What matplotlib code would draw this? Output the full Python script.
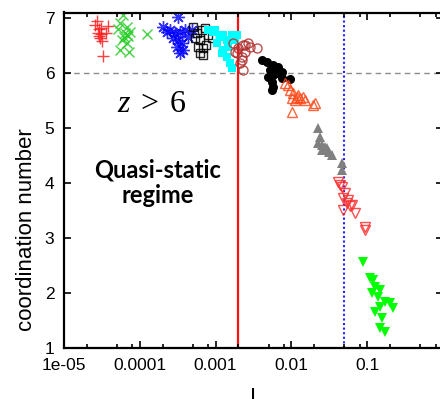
import numpy as np
import matplotlib.pyplot as plt
from matplotlib.ticker import FixedLocator, FixedFormatter, LogLocator, NullFormatter

plt.rcParams['font.family'] = ['Liberation Sans', 'DejaVu Sans']
plt.rcParams['mathtext.fontset'] = 'custom'
plt.rcParams['mathtext.rm'] = 'Liberation Serif'
plt.rcParams['mathtext.it'] = 'Liberation Serif:italic'

# data (x = I, y = coordination number)
plus_x = [2.7e-5, 2.9e-5, 3.8e-5, 2.8e-5, 3.1e-5, 3.6e-5, 3.0e-5, 3.2e-5, 3.3e-5, 2.6e-5, 3.1e-5, 2.9e-5]
plus_y = [6.95, 6.80, 6.85, 6.73, 6.71, 6.73, 6.64, 6.59, 6.30, 6.87, 6.82, 6.67]

cross_x = [6.0e-5, 5.5e-5, 6.8e-5, 6.4e-5, 7.4e-5, 5.2e-5, 5.8e-5, 6.8e-5, 5.5e-5, 7.2e-5, 1.24e-4, 6.2e-5, 7.0e-5]
cross_y = [7.05, 6.91, 6.84, 6.73, 6.75, 6.80, 6.60, 6.55, 6.42, 6.38, 6.71, 6.65, 6.67]

star_x = [3.2e-4, 2.0e-4, 2.5e-4, 2.9e-4, 3.4e-4, 3.95e-4, 2.75e-4, 3.2e-4, 3.6e-4, 3.1e-4, 3.7e-4, 3.4e-4, 4.3e-4, 4.9e-4, 2.3e-4]
star_y = [7.02, 6.84, 6.78, 6.73, 6.75, 6.78, 6.64, 6.60, 6.55, 6.47, 6.42, 6.36, 6.65, 6.78, 6.75]

osq_x = [5.0e-4, 5.7e-4, 6.6e-4, 6.2e-4, 5.9e-4, 6.8e-4, 6.2e-4, 6.8e-4, 7.9e-4, 9.0e-4, 7.5e-4, 5.35e-4, 7.25e-4]
osq_y = [6.84, 6.73, 6.78, 6.60, 6.47, 6.45, 6.36, 6.33, 6.69, 6.64, 6.51, 6.64, 6.82]

fsq_x = [7.9e-4, 9.25e-4, 1.14e-3, 1.25e-3, 1.41e-3, 1.65e-3, 1.92e-3, 1.04e-3, 1.25e-3, 1.41e-3, 1.55e-3, 1.65e-3, 1.80e-3, 1.21e-3, 9.8e-4, 1.46e-3]
fsq_y = [6.78, 6.75, 6.65, 6.69, 6.60, 6.69, 6.69, 6.55, 6.42, 6.29, 6.18, 6.09, 6.60, 6.36, 6.78, 6.47]

ocirc_x = [1.70e-3, 1.98e-3, 2.30e-3, 2.67e-3, 3.52e-3, 1.92e-3, 2.23e-3, 2.44e-3, 2.10e-3, 2.30e-3, 2.44e-3, 2.84e-3, 1.80e-3, 2.23e-3]
ocirc_y = [6.55, 6.45, 6.51, 6.55, 6.45, 6.36, 6.29, 6.38, 6.18, 6.05, 6.51, 6.47, 6.38, 6.24]

fcirc_x = [4.1e-3, 4.76e-3, 5.72e-3, 6.66e-3, 7.52e-3, 5.22e-3, 5.72e-3, 7.52e-3, 9.6e-3, 5.55e-3, 5.72e-3, 5.55e-3, 4.91e-3, 6.46e-3]
fcirc_y = [6.24, 6.20, 6.15, 6.11, 6.02, 6.05, 5.96, 5.91, 5.89, 5.84, 5.75, 5.69, 5.93, 6.00]

otri_x = [8.24e-3, 9.6e-3, 1.05e-2, 1.22e-2, 1.42e-2, 1.02e-2, 1.12e-2, 1.93e-2, 1.02e-2, 1.30e-2, 1.19e-2, 2.05e-2, 9.0e-3, 1.51e-2]
otri_y = [5.82, 5.69, 5.64, 5.60, 5.56, 5.55, 5.51, 5.42, 5.29, 5.55, 5.56, 5.45, 5.78, 5.51]

gtri_x = [2.24e-2, 2.38e-2, 2.24e-2, 2.53e-2, 2.77e-2, 2.95e-2, 2.53e-2, 3.43e-2, 4.65e-2, 4.65e-2, 3.13e-2]
gtri_y = [5.00, 4.84, 4.73, 4.69, 4.65, 4.64, 4.60, 4.51, 4.36, 4.24, 4.56]

rdown_x = [4.12e-2, 4.65e-2, 5.1e-2, 4.8e-2, 5.42e-2, 5.93e-2, 6.3e-2, 6.9e-2, 9.35e-2, 9.35e-2, 4.8e-2, 4.38e-2, 5.58e-2]
rdown_y = [4.02, 3.93, 3.82, 3.73, 3.64, 3.58, 3.60, 3.45, 3.20, 3.15, 3.51, 3.96, 3.69]

gdown_x = [8.8e-2, 0.109, 0.119, 0.127, 0.148, 0.116, 0.139, 0.172, 0.148, 0.200, 0.219, 0.127, 0.157, 0.148, 0.172]
gdown_y = [2.56, 2.27, 2.24, 2.11, 2.05, 2.00, 1.93, 1.84, 1.75, 1.82, 1.73, 1.65, 1.55, 1.36, 1.29]

I_quasi = 0.002    # red line
I_dense = 0.05     # blue dotted line
z_level = 6

xtick_vals = [1e-5, 1e-4, 1e-3, 1e-2, 1e-1, 1]
xtick_labels = ['1e-05', '0.0001', '0.001', '0.01', '0.1', '']
ytick_vals = [1, 2, 3, 4, 5, 6, 7]

fig = plt.figure(figsize=(4.4, 3.99), dpi=100)
ax = fig.add_axes([64 / 440, 51 / 399, 379 / 440, 335.5 / 399])

ax.axhline(z_level, color='#8c8c8c', lw=1, dashes=(4, 3), zorder=1)
ax.axvline(I_quasi, color='#ff1010', lw=1.6, zorder=1)
ax.axvline(I_dense, color='#2222ff', lw=1.5, ls=(0, (1, 1.2)), zorder=1)

ax.plot(plus_x, plus_y, ls='none', marker='+', ms=8, mew=1, color='#ff2020', alpha=0.85)
ax.plot(cross_x, cross_y, ls='none', marker='x', ms=7, mew=1, color='#22cc22', alpha=0.85)
ax.plot(star_x, star_y, ls='none', marker=(8, 2, 0), ms=9, mew=1, color='#0000ff', alpha=0.8)
ax.plot(osq_x, osq_y, ls='none', marker='s', ms=5.5, mew=1, mfc='none', color='black', alpha=0.85)
ax.plot(fsq_x, fsq_y, ls='none', marker='s', ms=6, mew=0, color='#00ffff')
ax.plot(ocirc_x, ocirc_y, ls='none', marker='o', ms=6.5, mew=1, mfc='none', color='#b03030', alpha=0.85)
ax.plot(fcirc_x, fcirc_y, ls='none', marker='o', ms=6.5, mew=0, color='black')
ax.plot(otri_x, otri_y, ls='none', marker='^', ms=6.5, mew=1, mfc='none', color='#ff4a1a', alpha=0.85)
ax.plot(gtri_x, gtri_y, ls='none', marker='^', ms=6.5, mew=0, color='#808080')
ax.plot(rdown_x, rdown_y, ls='none', marker='v', ms=6.5, mew=1, mfc='none', color='#ff3030', alpha=0.85)
ax.plot(gdown_x, gdown_y, ls='none', marker='v', ms=6.5, mew=0, color='#00ff00')

ax.set_xscale('log')
ax.set_xlim(1e-5, 1)
ax.set_ylim(1, 7.1)
ax.xaxis.set_major_locator(FixedLocator(xtick_vals))
ax.xaxis.set_major_formatter(FixedFormatter(xtick_labels))
ax.xaxis.set_minor_locator(LogLocator(base=10, subs=[2, 5, 8]))
ax.xaxis.set_minor_formatter(NullFormatter())
ax.set_yticks(ytick_vals)
ax.tick_params(which='both', direction='in', top=True, right=True, width=1.2,
               labelsize=12.5, pad=7)
ax.tick_params(which='major', length=5)
ax.tick_params(which='minor', length=3)
for s in ax.spines.values():
    s.set_linewidth(1.6)

ax.text(1.45e-4, 5.44, r'$z\;>\;\mathrm{6}$', fontsize=23, ha='center', va='center')
ax.text(1.74e-4, 4.01, 'Quasi-static\nregime', fontsize=17, fontweight='bold',
        family=['Lato', 'DejaVu Sans'], ha='center', va='center', linespacing=1.15)

fig.text(27 / 440, 1 - 230 / 399, 'coordination number', rotation=90,
         fontsize=16, ha='center', va='center')
fig.text(253 / 440, 1 - 387 / 399, 'I', fontsize=16, ha='center', va='top')

fig.savefig('out.png', dpi=100)
